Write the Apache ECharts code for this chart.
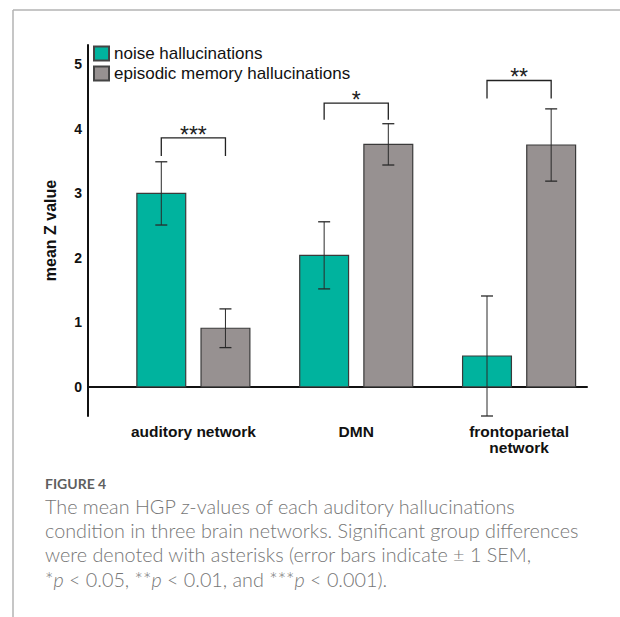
<!DOCTYPE html>
<html>
<head>
<meta charset="utf-8">
<script src="https://cdn.jsdelivr.net/npm/echarts@6/dist/echarts.min.js"></script>
<style>
html,body{margin:0;padding:0;background:#fff;}
#chart{width:620px;height:617px;}
</style>
</head>
<body>
<div id="chart"></div>
<script>
const categories = ['auditory network', 'DMN', 'frontoparietal\nnetwork'];
const groupPositions = [1, 2, 3];
const seriesNames = ['noise hallucinations', 'episodic memory hallucinations'];
const noiseMeans = [3.00, 2.04, 0.48];
const noiseSem = [0.49, 0.52, 0.93];
const episodicMeans = [0.91, 3.76, 3.75];
const episodicSem = [0.30, 0.32, 0.56];
const sigLabels = ['***', '*', '**'];
const bracketTop = [3.86, 4.40, 4.75];
const bracketLegEnd = [3.58, 4.14, 4.47];
const yTicks = [0, 1, 2, 3, 4, 5];

const TEAL = '#00b39e';
const GRAY = '#979191';
const BAR_OFFSET = 0.197;
const BAR_HALF = 0.15;
const ARIAL = 'Liberation Sans, Arial, sans-serif';

function barRenderer(offset, color) {
  return function (params, api) {
    const xc = api.value(0) + offset;
    const v = api.value(1);
    const e = api.value(2);
    const p0 = api.coord([xc - BAR_HALF, v]);
    const p1 = api.coord([xc + BAR_HALF, 0]);
    const top = api.coord([xc, v + e]);
    const bot = api.coord([xc, v - e]);
    const cap = 6;
    return {
      type: 'group',
      children: [
        { type: 'rect', shape: { x: p0[0], y: Math.min(p0[1], p1[1]), width: p1[0] - p0[0], height: Math.abs(p1[1] - p0[1]) },
          style: { fill: color, stroke: '#3a3a3a', lineWidth: 1.2 } },
        { type: 'line', shape: { x1: top[0], y1: top[1], x2: bot[0], y2: bot[1] }, style: { stroke: '#2a2a2a', lineWidth: 1 } },
        { type: 'line', shape: { x1: top[0] - cap, y1: top[1], x2: top[0] + cap, y2: top[1] }, style: { stroke: '#2a2a2a', lineWidth: 1.3 } },
        { type: 'line', shape: { x1: bot[0] - cap, y1: bot[1], x2: bot[0] + cap, y2: bot[1] }, style: { stroke: '#2a2a2a', lineWidth: 1.3 } }
      ]
    };
  };
}

function bracketRenderer(params, api) {
  const g = api.value(0);
  const yt = api.value(1);
  const yl = api.value(2);
  const lt = api.coord([g - BAR_OFFSET, yt]);
  const rt = api.coord([g + BAR_OFFSET, yt]);
  const lb = api.coord([g - BAR_OFFSET, yl]);
  const rb = api.coord([g + BAR_OFFSET, yl]);
  const mid = api.coord([g, yt]);
  return {
    type: 'group',
    children: [
      { type: 'polyline', shape: { points: [lb, lt, rt, rb] }, style: { stroke: '#222', lineWidth: 1.3, fill: null } },
      { type: 'text', x: mid[0], y: mid[1] - 3,
        style: { text: sigLabels[params.dataIndex], fontSize: 23, fontFamily: ARIAL, fill: '#222', align: 'center', verticalAlign: 'middle' } }
    ]
  };
}

const noiseData = groupPositions.map((g, i) => [g, noiseMeans[i], noiseSem[i]]);
const episodicData = groupPositions.map((g, i) => [g, episodicMeans[i], episodicSem[i]]);
const bracketData = groupPositions.map((g, i) => [g, bracketTop[i], bracketLegEnd[i]]);

const chart = echarts.init(document.getElementById('chart'), null, { renderer: 'svg', width: 620, height: 617 });

const captionFont = 'Lato, "Open Sans", sans-serif';
const captionColor = '#767676';
const captionLines = [
  'The mean HGP {i|z}-values of each auditory hallucinations',
  'condition in three brain networks. Significant group differences',
  'were denoted with asterisks (error bars indicate \u00b1 1 SEM,',
  '*{i|p} < 0.05, **{i|p} < 0.01, and ***{i|p} < 0.001).'
];

const graphics = [
  { type: 'line', shape: { x1: 13, y1: 10, x2: 620, y2: 10 }, style: { stroke: '#b3b3b3', lineWidth: 1.5 } },
  { type: 'line', shape: { x1: 13, y1: 10, x2: 13, y2: 617 }, style: { stroke: '#b3b3b3', lineWidth: 1.5 } },
  { type: 'text', left: 45, top: 476, style: { text: 'FIGURE 4', fontSize: 14, fontWeight: 'bold', fontFamily: captionFont, fill: '#5f5f5f' } }
];
captionLines.forEach((t, i) => {
  graphics.push({ type: 'text', left: 45, top: 496 + i * 24.2,
    style: { text: t, fontSize: 19.8, fontWeight: 300, fontFamily: captionFont, fill: captionColor,
      rich: { i: { fontStyle: 'italic', fontWeight: 300, fontSize: 19.8, fontFamily: captionFont, fill: captionColor } } } });
});

chart.setOption({
  animation: false,
  backgroundColor: '#fff',
  grid: { left: 88, right: 33, top: 45, bottom: 201, containLabel: false },
  legend: {
    data: seriesNames,
    orient: 'vertical',
    left: 93, top: 45,
    itemWidth: 15, itemHeight: 14, itemGap: 3,
    padding: 0,
    icon: 'rect',
    textStyle: { fontSize: 17, color: '#111', fontFamily: ARIAL }
  },
  xAxis: {
    type: 'value', min: 0.353, max: 3.417,
    splitLine: { show: false },
    axisTick: { show: false },
    axisLine: { show: true, onZero: true, lineStyle: { color: '#111', width: 2 } },
    axisLabel: {
      customValues: groupPositions,
      formatter: v => categories[Math.round(v) - 1] || '',
      margin: 7, fontSize: 15.5, fontWeight: 'bold', color: '#111', lineHeight: 16.5,
      fontFamily: ARIAL
    }
  },
  yAxis: {
    type: 'value', min: -0.45, max: 5.3,
    name: 'mean Z value', nameLocation: 'middle', nameGap: 30,
    nameTextStyle: { fontSize: 16, fontWeight: 'bold', color: '#111', fontFamily: ARIAL },
    splitLine: { show: false },
    axisTick: { show: false },
    axisLine: { show: true, lineStyle: { color: '#111', width: 2 } },
    axisLabel: { customValues: yTicks, margin: 6, fontSize: 14, fontWeight: 'bold', color: '#111', fontFamily: ARIAL }
  },
  series: [
    { name: seriesNames[0], type: 'custom', data: noiseData, renderItem: barRenderer(-BAR_OFFSET, TEAL),
      encode: { x: 0, y: [1] }, itemStyle: { color: TEAL, borderColor: '#444', borderWidth: 1 }, z: 3 },
    { name: seriesNames[1], type: 'custom', data: episodicData, renderItem: barRenderer(BAR_OFFSET, GRAY),
      encode: { x: 0, y: [1] }, itemStyle: { color: GRAY, borderColor: '#444', borderWidth: 1 }, z: 3 },
    { name: 'significance', type: 'custom', data: bracketData, renderItem: bracketRenderer,
      encode: { x: 0, y: [1, 2] }, z: 4, silent: true }
  ],
  graphic: graphics
});
</script>
</body>
</html>
